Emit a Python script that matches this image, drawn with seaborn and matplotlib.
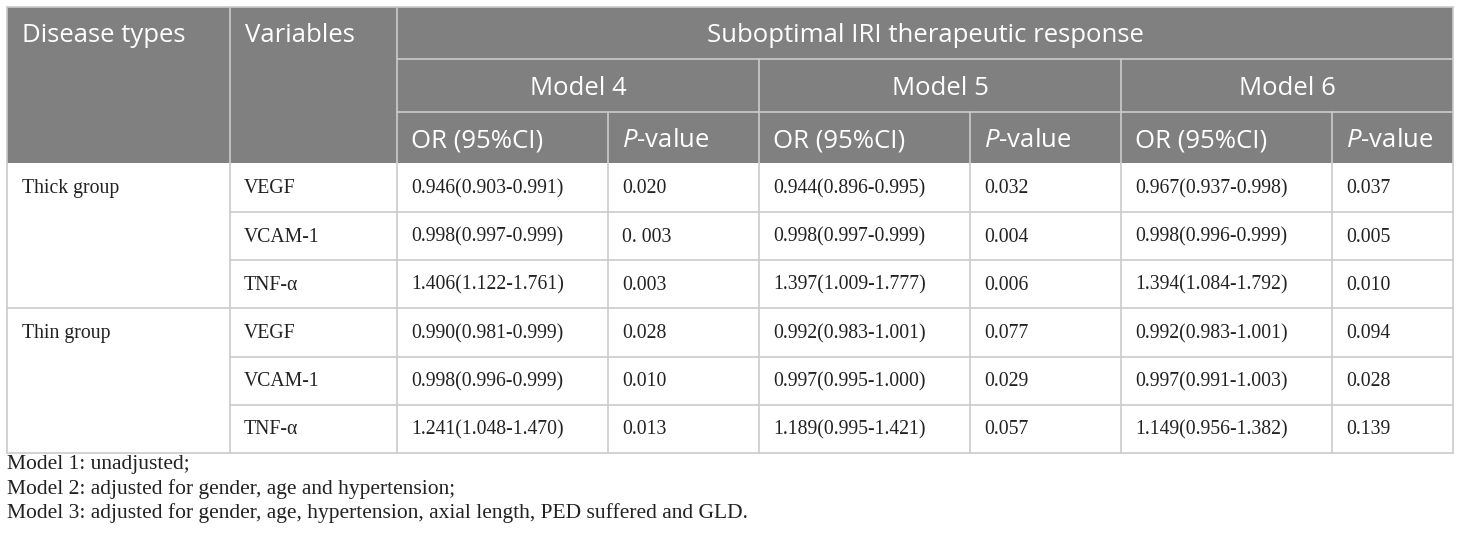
import matplotlib
matplotlib.use('Agg')
import matplotlib.pyplot as plt
import seaborn as sns

# table content
title = 'Suboptimal IRI therapeutic response'
col_heads = ['Disease types', 'Variables']
models = ['Model 4', 'Model 5', 'Model 6']
groups = ['Thick group', 'Thin group']
variables = ['VEGF', 'VCAM-1', 'TNF-α', 'VEGF', 'VCAM-1', 'TNF-α']

or_m4 = ['0.946(0.903-0.991)', '0.998(0.997-0.999)', '1.406(1.122-1.761)',
         '0.990(0.981-0.999)', '0.998(0.996-0.999)', '1.241(1.048-1.470)']
p_m4 = ['0.020', '0. 003', '0.003', '0.028', '0.010', '0.013']
or_m5 = ['0.944(0.896-0.995)', '0.998(0.997-0.999)', '1.397(1.009-1.777)',
         '0.992(0.983-1.001)', '0.997(0.995-1.000)', '1.189(0.995-1.421)']
p_m5 = ['0.032', '0.004', '0.006', '0.077', '0.029', '0.057']
or_m6 = ['0.967(0.937-0.998)', '0.998(0.996-0.999)', '1.394(1.084-1.792)',
         '0.992(0.983-1.001)', '0.997(0.991-1.003)', '1.149(0.956-1.382)']
p_m6 = ['0.037', '0.005', '0.010', '0.094', '0.028', '0.139']

notes = ['Model 1: unadjusted;',
         'Model 2: adjusted for gender, age and hypertension;',
         'Model 3: adjusted for gender, age, hypertension, axial length, PED suffered and GLD.']

sns.set_theme(style='white')
plt.rcParams['mathtext.fontset'] = 'custom'
plt.rcParams['mathtext.rm'] = 'Open Sans'
plt.rcParams['mathtext.it'] = 'Open Sans:italic'

# layout in pixels
col_x = [7, 230, 397, 608, 759, 970, 1121, 1332, 1453]
head_y = [7, 59, 112, 163]
row_y = [163, 212, 260, 308, 357, 405, 453]
pad = 14
head_gray = '#808080'
line_c = '#cbcbcb'
sans = 'Open Sans'
serif = 'Liberation Serif'
hs = 18.5
bs = 14.2
fs = 15.5

fig = plt.figure(figsize=(14.6, 5.4), dpi=100)
ax = fig.add_axes([0, 0, 1, 1])
ax.set_xlim(0, 1460)
ax.set_ylim(540, 0)
ax.axis('off')

# header background
ax.add_patch(plt.Rectangle((col_x[0], head_y[0]), col_x[-1] - col_x[0], head_y[-1] - head_y[0],
                           facecolor=head_gray, edgecolor='none'))

lw = 1.2
# header lines
ax.plot([col_x[0], col_x[-1]], [head_y[0], head_y[0]], color=line_c, lw=lw)
ax.plot([col_x[2], col_x[-1]], [head_y[1], head_y[1]], color=line_c, lw=lw)
ax.plot([col_x[2], col_x[-1]], [head_y[2], head_y[2]], color=line_c, lw=lw)
for x in [col_x[1], col_x[2]]:
    ax.plot([x, x], [head_y[0], head_y[3]], color=line_c, lw=lw)
for x in [col_x[4], col_x[6]]:
    ax.plot([x, x], [head_y[1], head_y[3]], color=line_c, lw=lw)
for x in [col_x[3], col_x[5], col_x[7]]:
    ax.plot([x, x], [head_y[2], head_y[3]], color=line_c, lw=lw)
for x in [col_x[0], col_x[-1]]:
    ax.plot([x, x], [head_y[0], head_y[3]], color=line_c, lw=lw)

# body lines
for x in col_x:
    ax.plot([x, x], [row_y[0], row_y[-1]], color=line_c, lw=lw)
for i, y in enumerate(row_y[1:], start=1):
    x0 = col_x[0] if i % 3 == 0 else col_x[1]
    ax.plot([x0, col_x[-1]], [y, y], color=line_c, lw=lw)

# header text
ymid = [(head_y[i] + head_y[i + 1]) / 2 + 3 for i in range(3)]
ax.text(col_x[0] + 15, ymid[0], col_heads[0], fontsize=hs, family=sans, color='white', va='center')
ax.text(col_x[1] + 15, ymid[0], col_heads[1], fontsize=hs, family=sans, color='white', va='center')
ax.text((col_x[2] + col_x[-1]) / 2, ymid[0], title, fontsize=hs, family=sans, color='white',
        va='center', ha='center')
for k, m in enumerate(models):
    xa, xb = col_x[2 + 2 * k], col_x[4 + 2 * k]
    ax.text((xa + xb) / 2, ymid[1], m, fontsize=hs, family=sans, color='white', va='center', ha='center')
    ax.text(xa + pad, ymid[2], 'OR (95%CI)', fontsize=hs, family=sans, color='white', va='center')
    ax.text(col_x[3 + 2 * k] + pad, ymid[2], r'$P$-value', fontsize=hs, family=sans, color='white',
            va='center')

# body text
cols = [or_m4, p_m4, or_m5, p_m5, or_m6, p_m6]
for r in range(6):
    yc = (row_y[r] + row_y[r + 1]) / 2 + 1
    if r % 3 == 0:
        ax.text(col_x[0] + 15, yc, groups[r // 3], fontsize=bs, family=serif, color='#222222', va='center')
    ax.text(col_x[1] + pad, yc, variables[r], fontsize=bs, family=serif, color='#222222', va='center')
    for c, vals in enumerate(cols):
        ax.text(col_x[2 + c] + pad, yc, vals[r], fontsize=bs, family=serif, color='#222222', va='center')

# footnotes
for i, note in enumerate(notes):
    ax.text(col_x[0], 465 + 24 * i, note, fontsize=fs, family=serif, color='#222222', va='center')

fig.savefig('out.png', dpi=100, facecolor='white')
